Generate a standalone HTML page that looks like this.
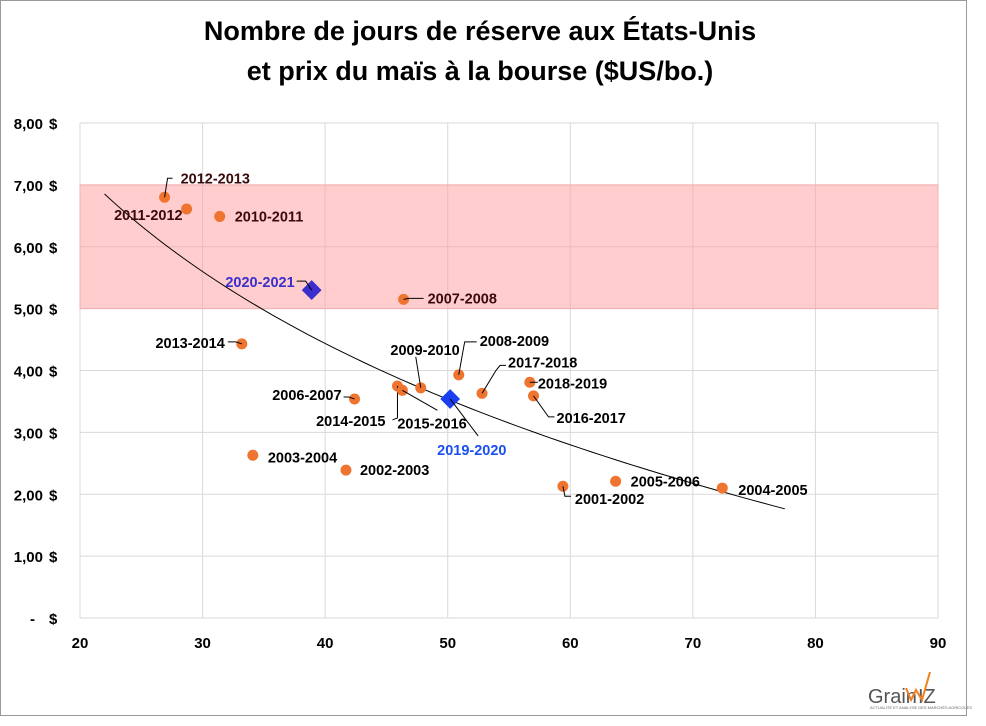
<!DOCTYPE html>
<html><head><meta charset="utf-8"><style>
body{margin:0;background:#fff;}
svg text{font-family:"Liberation Sans",sans-serif;font-weight:bold;}
</style></head><body>
<svg width="986" height="721" xmlns="http://www.w3.org/2000/svg">
<rect x="0.5" y="0.5" width="966" height="715" fill="#fff" stroke="#999"/>
<text x="480" y="40" font-size="27" text-anchor="middle" fill="#000">Nombre de jours de réserve aux États-Unis</text>
<text x="480" y="80" font-size="27" text-anchor="middle" fill="#000">et prix du maïs à la bourse ($US/bo.)</text>
<g id="grid"></g><g id="band"></g><g id="axes"></g><g id="trend"></g><g id="marks"></g>
<g>
<text x="868" y="703" font-size="20" fill="#555" style="font-weight:normal">Grain</text>
<text x="918" y="703" font-size="20" fill="#555" style="font-weight:normal">IZ</text>
<polyline points="906,688 911,700 916,690 922,700 930,672" fill="none" stroke="#f08020" stroke-width="2"/>
<text x="870" y="709" font-size="4" fill="#666" style="font-weight:normal">ACTUALITÉ ET ANALYSE DES MARCHÉS AGRICOLES</text>
</g>
</svg>
<script>
const xTicks=[20,30,40,50,60,70,80,90];
const yTicks=[0,1,2,3,4,5,6,7,8];
const yTickLabels=["-","1,00","2,00","3,00","4,00","5,00","6,00","7,00","8,00"];
const seasons=["2012-2013","2011-2012","2010-2011","2007-2008","2013-2014","2008-2009","2009-2010","2017-2018","2018-2019","2016-2017","2006-2007","2014-2015","2015-2016","2003-2004","2002-2003","2001-2002","2005-2006","2004-2005"];
const days=[26.9,28.7,31.4,46.4,33.2,50.9,47.8,52.8,56.7,57.0,42.4,45.9,46.3,34.1,41.7,59.4,63.7,72.4];
const prices=[6.80,6.61,6.49,5.15,4.43,3.93,3.72,3.63,3.81,3.59,3.54,3.75,3.68,2.63,2.39,2.13,2.21,2.10];
const hiSeasons=["2020-2021","2019-2020"];
const hiDays=[38.9,50.2];
const hiPrices=[5.30,3.54];
const bandRange=[5,7];
const trendCoef=[19.34,-4.04]; // price = a + b*ln(days)
const trendRange=[22,77.5];
// label layout: [dx,dy(center),anchor,leader points relative]
const lay=[[16,-19,"start",[0,0,3,-19,8,-19]],[-4,6,"end",null],[15,0,"start",null],[24,-1,"start",[0,0,5,-1,20,-1]],[-17,-1,"end",[0,0,-6,-2,-14,-2]],[21,-34,"start",[0,0,5,-28,6,-33,18,-33]],[39,-38,"end",[0,0,-5,-31]],[26,-31,"start",[0,0,14,-23,18,-28,24,-28]],[8,1,"start",[0,0,8,0]],[23,22,"start",[0,0,15,21,21,21]],[-13,-4,"end",[0,0,-6,-2,-11,-2]],[-12,35,"end",[0,0,0,32,-5,34]],[-5,33,"start",[0,0,35,20]],[15,2,"start",null],[14,0,"start",null],[12,13,"start",[0,0,2,10,8,10]],[15,0,"start",null],[16,2,"start",null]];
const hiLay=[[-17,-8,"end",[0,0,-6,-9,-15,-9],"#3a2fcc"],[-13,51,"start",[0,0,28,37],"#1a4ff0"]];
const L=80,R=938,T=123,B=618;
const sx=v=>L+(v-20)/70*(R-L), sy=v=>B-v/8*(B-T);
const NS="http://www.w3.org/2000/svg";
function mk(p,t,a){const e=document.createElementNS(NS,t);for(const k in a)e.setAttribute(k,a[k]);p.appendChild(e);return e;}
const grid=document.getElementById('grid'),axes=document.getElementById('axes'),band=document.getElementById('band');
yTicks.forEach((v,i)=>{const l=mk(grid,'line',{x1:L,x2:R,y1:sy(v),y2:sy(v),stroke:'#d9d9d9'});


const t=mk(axes,'text',{x:i?43:35,y:sy(v)+6,'font-size':15,'text-anchor':'end'});t.textContent=yTickLabels[i];


const d=mk(axes,'text',{x:49,y:sy(v)+6,'font-size':15,'text-anchor':'start'});d.textContent='$';

});
xTicks.forEach(v=>{const l=mk(grid,'line',{x1:sx(v),x2:sx(v),y1:T,y2:B,stroke:'#d9d9d9'});


const t=mk(axes,'text',{x:sx(v),y:B+30,'font-size':15,'text-anchor':'middle'});t.textContent=v;

});
const b=mk(band,'rect',{x:L,y:sy(bandRange[1]),width:R-L,height:sy(bandRange[0])-sy(bandRange[1]),fill:'#ff9b9b','fill-opacity':0.5,stroke:'#f4b0b0'});


let pts=[];for(let i=0;i<=60;i++){const x=trendRange[0]+(trendRange[1]-trendRange[0])*i/60;pts.push(sx(x)+','+sy(trendCoef[0]+trendCoef[1]*Math.log(x)));}
const tr=mk(document.getElementById('trend'),'polyline',{points:pts.join(' '),fill:'none',stroke:'#000','stroke-width':1});


const marks=document.getElementById('marks');
function label(px,py,lo,txt,col){if(lo[3]){const q=lo[3];let pp=[];for(let j=0;j<q.length;j+=2)pp.push((px+q[j])+','+(py+q[j+1]));const ll=mk(marks,'polyline',{points:pp.join(' '),fill:'none',stroke:'#000','stroke-width':1});

}
const t=mk(marks,'text',{x:px+lo[0],y:py+lo[1]+5,'font-size':14.5,'text-anchor':lo[2],fill:col});t.textContent=txt;

}
days.forEach((d,i)=>{const px=sx(d),py=sy(prices[i]);const c=mk(marks,'circle',{cx:px,cy:py,r:5.5,fill:'#ee7430'});


const col=(prices[i]>=5&&prices[i]<=7)?'#3a0a0a':'#000';label(px,py,lay[i],seasons[i],col);});
hiDays.forEach((d,i)=>{const px=sx(d),py=sy(hiPrices[i]);const r=mk(marks,'rect',{x:px-7,y:py-7,width:14,height:14,fill:i?'#1a3ff0':'#3a2fcc',transform:`rotate(45 ${px} ${py})`});


label(px,py,hiLay[i],hiSeasons[i],hiLay[i][4]);});
</script>
</body></html>
